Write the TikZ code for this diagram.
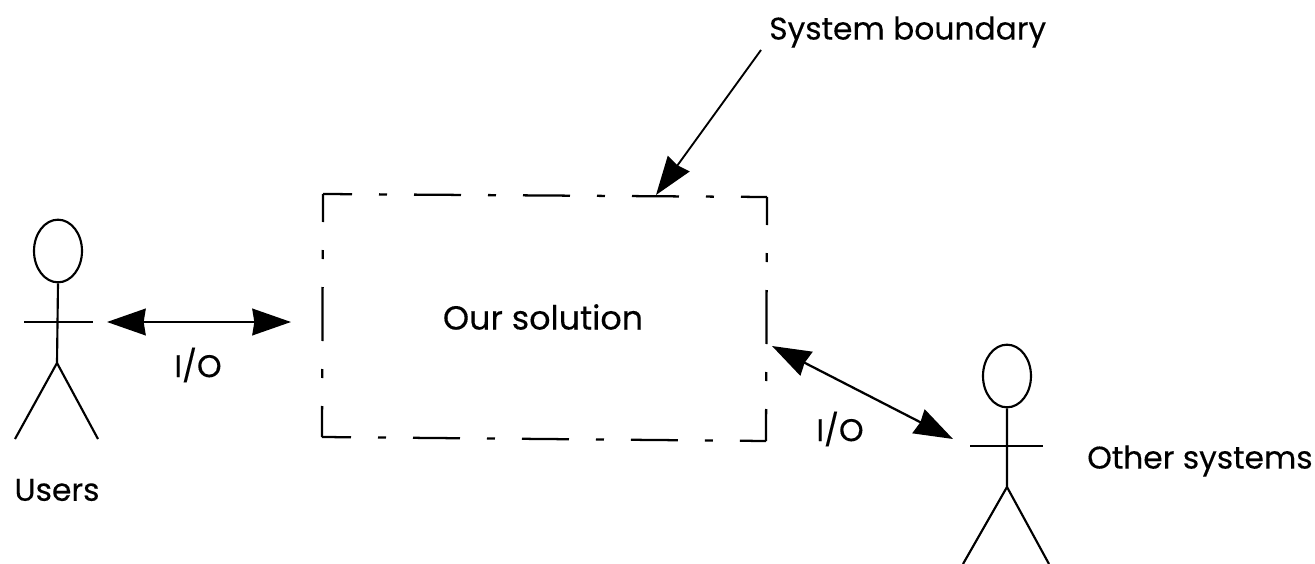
\documentclass[tikz,border=0pt]{standalone}
\usepackage{fontspec}
\setmainfont[FakeBold=0.25]{Poppins}
\usetikzlibrary{arrows.meta,shapes.geometric}
\tikzset{
  line/.style={line width=1.6pt,black},
  head/.style={draw,ellipse,line width=1.6pt,minimum width=36pt,minimum height=47pt,inner sep=0pt},
  label/.style={inner sep=0pt,font=\fontsize{23.5pt}{26pt}\selectfont,text=black},
  biglabel/.style={inner sep=0pt,font=\fontsize{25pt}{28pt}\selectfont,text=black},
  io/.style={line width=1.7pt,{Stealth[length=29pt,width=20pt,inset=1.5pt]}-{Stealth[length=29pt,width=20pt,inset=1.5pt]}},
  onearrow/.style={line width=1.4pt,-{Stealth[length=29pt,width=20pt,inset=1.5pt]}},
  hsidestyle/.style={line width=1.7pt,dash pattern=on 35.25pt off 20.25pt on 6pt off 20.25pt,dash phase=13.5pt},
  vsidestyle/.style={line width=1.7pt,dash pattern=on 40.5pt off 21pt on 6.75pt off 21pt,dash phase=19.5pt}
}
\begin{document}
\begin{tikzpicture}[x=0.75pt,y=-0.75pt]
\useasboundingbox (0,0) rectangle (1315,564);
% boundary
\coordinate (tl) at (323,194);
\coordinate (tr) at (767,197);
\coordinate (br) at (766,441);
\coordinate (bl) at (322,437);
\draw[hsidestyle] (tl) -- (tr);
\draw[hsidestyle] (bl) -- (br);
\draw[vsidestyle] (tl) -- (bl);
\draw[vsidestyle] (tr) -- (br);
\node[biglabel] (sol) at (543,317) {Our solution};
% users
\node[head] (h1) at (58,251) {};
\coordinate (hip1) at (57,363);
\coordinate (la1) at (24,322);
\coordinate (ra1) at (93,322);
\coordinate (ll1) at (15,439);
\coordinate (rl1) at (98,439);
\draw[line] (h1.south) -- (hip1) -- (ll1);
\draw[line] (hip1) -- (rl1);
\draw[line] (la1) -- (ra1);
\node[label] (users) at (57,490) {Users};
% others
\node[head] (h2) at (1007,376) {};
\coordinate (hip2) at (1007,487);
\coordinate (la2) at (970,446);
\coordinate (ra2) at (1043,446);
\coordinate (ll2) at (963,564);
\coordinate (rl2) at (1049,564);
\draw[line] (h2.south) -- (hip2) -- (ll2);
\draw[line] (hip2) -- (rl2);
\draw[line] (la2) -- (ra2);
\node[label,anchor=west] (other) at (1087,461) {Other systems};
% connectors
\coordinate (a1) at (107,322);
\coordinate (a2) at (291,322);
\draw[io] (a1) -- (a2);
\node[label] (io1) at (198,365) {I/O};
\coordinate (b1) at (772,346);
\coordinate (b2) at (953,439);
\draw[io] (b1) -- (b2);
\node[label] (io2) at (840,429) {I/O};
\node[label,anchor=west] (sb) at (769,32) {System boundary};
\coordinate (c1) at (761,50);
\coordinate (c2) at (656,195);
\draw[onearrow] (c1) -- (c2);
\end{tikzpicture}
\end{document}
